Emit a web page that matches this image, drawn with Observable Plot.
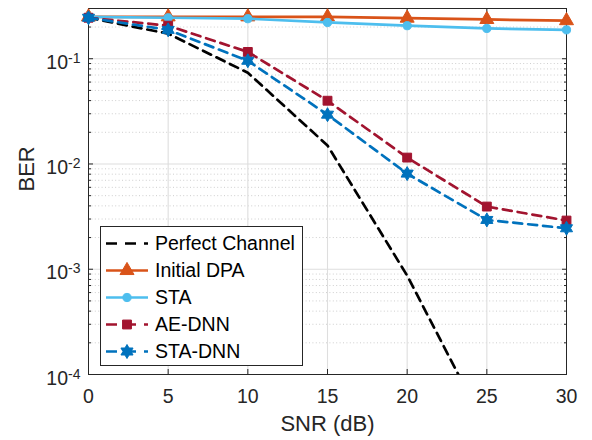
<!DOCTYPE html>
<html><head><meta charset="utf-8">
<script src="https://cdn.jsdelivr.net/npm/d3@7"></script>
<script src="https://cdn.jsdelivr.net/npm/@observablehq/plot@0.6"></script>
<style>
body{margin:0;background:#fff;font-family:"Liberation Sans",Arial,sans-serif;}
#wrap{position:relative;width:592px;height:440px;overflow:hidden;}
#legend{position:absolute;left:100px;top:226px;width:203px;height:140px;border:1px solid #262626;background:#fff;box-sizing:border-box;}
.row{position:absolute;left:4px;height:27px;display:flex;align-items:center;font-size:19.5px;color:#000;white-space:nowrap;}
.row svg{display:block;margin-right:2px;}
</style></head><body><div id="wrap"></div>
<script>
// ---- data ----
const snr = [0, 5, 10, 15, 20, 25, 30];
const perfectChannel = [0.245, 0.173, 0.0736, 0.015, 0.00087, 0.00003, 0.000001];
const initialDPA = [0.25, 0.25, 0.25, 0.25, 0.243, 0.236, 0.23];
const sta = [0.25, 0.245, 0.24, 0.221, 0.206, 0.194, 0.188];
const aeDNN = [0.245, 0.206, 0.116, 0.0399, 0.0115, 0.00394, 0.0029];
const staDNN = [0.245, 0.188, 0.0956, 0.0294, 0.0081, 0.00294, 0.00245];
const seriesNames = ["Perfect Channel", "Initial DPA", "STA", "AE-DNN", "STA-DNN"];
const xTicks = [0, 5, 10, 15, 20, 25, 30];
const yMajor = [1e-4, 1e-3, 1e-2, 1e-1];
const yMinorMult = [2, 3, 4, 5, 6, 7, 8, 9];

// ---- styles ----
const hexagram = {
  draw(ctx, size) {
    const R = Math.sqrt(size / Math.PI), r = R / Math.sqrt(3);
    for (let k = 0; k < 12; k++) {
      const a = Math.PI / 2 + k * Math.PI / 6, rad = k % 2 === 0 ? R : r;
      const px = rad * Math.cos(a), py = -rad * Math.sin(a);
      k ? ctx.lineTo(px, py) : ctx.moveTo(px, py);
    }
    ctx.closePath();
  }
};
const styles = {
  "Perfect Channel": {color: "#000000", dash: "9,6", symbol: null, r: 0},
  "Initial DPA": {color: "#D95319", dash: null, symbol: d3.symbolTriangle, r: 5.2},
  "STA": {color: "#4DBEEE", dash: null, symbol: d3.symbolCircle, r: 4.1},
  "AE-DNN": {color: "#A2142F", dash: "9,6", symbol: d3.symbolSquare, r: 5.0},
  "STA-DNN": {color: "#0072BD", dash: "9,6", symbol: hexagram, r: 7.0}
};
const seriesValues = [perfectChannel, initialDPA, sta, aeDNN, staDNN];
const rows = seriesNames.flatMap((name, i) => snr.map((x, j) => ({series: name, snr: x, ber: seriesValues[i][j]})));
const yMinor = yMajor.slice(0, 4).flatMap(d => yMinorMult.map(m => d * m)).filter(v => v < 0.3);

const textColor = "#262626";
const seriesMarks = seriesNames.flatMap(name => {
  const s = styles[name];
  const data = rows.filter(d => d.series === name);
  const m = [Plot.line(data, {x: "snr", y: "ber", stroke: s.color, strokeWidth: 2.7, strokeDasharray: s.dash, clip: true})];
  if (s.symbol) m.push(Plot.dot(data, {x: "snr", y: "ber", symbol: s.symbol, r: s.r, fill: s.color, stroke: s.color, strokeWidth: 1}));
  return m;
});

const chart = Plot.plot({
  width: 592, height: 440,
  marginLeft: 88, marginRight: 26, marginTop: 8, marginBottom: 66,
  style: {fontFamily: "'Liberation Sans', Arial, sans-serif", background: "#fff", overflow: "visible"},
  x: {domain: [0, 30]},
  y: {type: "log", domain: [1e-4, 0.3]},
  marks: [
    Plot.ruleY(yMinor, {stroke: "#000", strokeOpacity: 0.22, strokeDasharray: "1,2.4", strokeWidth: 0.9}),
    Plot.ruleY(yMajor.slice(1), {stroke: "#dedede", strokeWidth: 1.1}),
    Plot.ruleX(xTicks.slice(1, -1), {stroke: "#dedede", strokeWidth: 1.1}),
    Plot.frame({stroke: textColor, strokeWidth: 1}),
    Plot.axisY({ticks: yMajor, anchor: "left", tickSize: 0, tickPadding: 8, dy: 4, fontSize: 19.5, color: textColor, label: null, tickFormat: d => "10^" + Math.round(Math.log10(d))}),
    Plot.axisY({ticks: yMajor, anchor: "left", tickSize: -5, tickFormat: () => "", label: null, color: textColor}),
    Plot.axisY({ticks: yMajor, anchor: "right", tickSize: -5, tickFormat: () => "", label: null, color: textColor}),
    Plot.axisY({ticks: yMinor, anchor: "left", tickSize: -3, tickFormat: () => "", label: null, color: textColor}),
    Plot.axisY({ticks: yMinor, anchor: "right", tickSize: -3, tickFormat: () => "", label: null, color: textColor}),
    Plot.axisX({ticks: xTicks, anchor: "bottom", tickSize: 0, tickPadding: 15, fontSize: 19.5, color: textColor, label: null}),
    Plot.axisX({ticks: xTicks, anchor: "bottom", tickSize: -5, tickFormat: () => "", label: null, color: textColor}),
    Plot.axisX({ticks: xTicks, anchor: "top", tickSize: -5, tickFormat: () => "", label: null, color: textColor}),
    Plot.text(["SNR (dB)"], {frameAnchor: "bottom", lineAnchor: "bottom", dy: 56, fontSize: 22, fill: textColor}),
    Plot.text(["BER"], {frameAnchor: "left", lineAnchor: "bottom", rotate: -90, dx: -55, fontSize: 22, fill: textColor}),
    ...seriesMarks
  ]
});

// superscript exponents on y tick labels
d3.select(chart).selectAll('g[aria-label="y-axis tick label"] text').each(function () {
  const t = this.textContent;
  if (!t.includes("^")) return;
  const [b, e] = t.split("^");
  const sel = d3.select(this);
  sel.text(null);
  sel.append("tspan").text(b);
  sel.append("tspan").attr("font-size", "14px").attr("dy", "-6").text(e);
});

const wrap = document.getElementById("wrap");
wrap.appendChild(chart);

// legend
const legend = document.createElement("div");
legend.id = "legend";
seriesNames.forEach((name, i) => {
  const s = styles[name];
  const row = document.createElement("div");
  row.className = "row";
  row.style.top = (2.5 + i * 27) + "px";
  const svg = d3.create("svg").attr("width", 48).attr("height", 27);
  svg.append("line").attr("x1", 1).attr("x2", 43).attr("y1", 13.5).attr("y2", 13.5)
    .attr("stroke", s.color).attr("stroke-width", 2.7).attr("stroke-dasharray", s.dash ? "11,8" : null);
  if (s.symbol) {
    svg.append("path").attr("transform", "translate(22,13.5)")
      .attr("d", d3.symbol(s.symbol, s.r * s.r * Math.PI)())
      .attr("fill", s.color).attr("stroke", s.color).attr("stroke-width", 1);
  }
  row.appendChild(svg.node());
  const span = document.createElement("span");
  span.textContent = name;
  row.appendChild(span);
  legend.appendChild(row);
});
wrap.appendChild(legend);
</script>
</body></html>
